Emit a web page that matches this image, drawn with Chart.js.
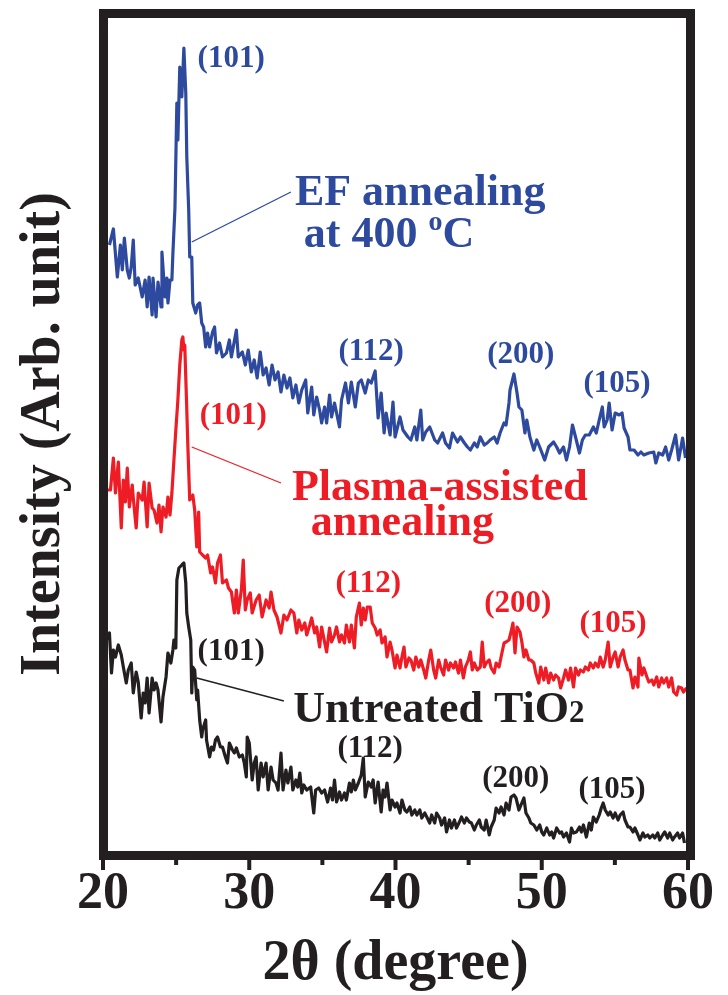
<!DOCTYPE html>
<html>
<head>
<meta charset="utf-8">
<script src="https://cdn.jsdelivr.net/npm/chart.js@4.4.0/dist/chart.umd.min.js"></script>
<style>
  html, body { margin: 0; padding: 0; background: #fff; }
  canvas { display: block; }
</style>
</head>
<body>
<canvas id="xrdChart" width="728" height="995"></canvas>
<script>
// 2-theta (degree) and intensity (arb. unit)
const efTheta = [20.44,20.71,20.98,21.19,21.32,21.46,21.66,21.80,21.93,22.07,22.20,22.41,22.68,22.88,23.02,23.15,23.36,23.42,23.63,23.76,
  23.97,24.03,24.24,24.37,24.44,24.58,24.71,24.78,24.92,25.05,25.12,25.25,25.39,25.53,25.66,25.73,25.86,25.93,26.07,26.14,
  26.34,26.47,26.61,26.75,26.88,27.02,27.15,27.29,27.49,27.63,27.76,27.97,28.17,28.44,28.64,28.78,29.12,29.25,29.53,29.73,
  29.93,30.14,30.34,30.54,30.75,30.95,31.15,31.36,31.56,31.76,31.97,32.17,32.37,32.58,32.78,32.98,33.19,33.39,33.59,33.86,
  34.00,34.27,34.41,34.61,34.81,34.95,35.15,35.29,35.49,35.63,35.83,36.17,36.31,36.58,36.78,36.98,37.25,37.46,37.66,37.93,
  38.14,38.34,38.61,38.81,39.02,39.22,39.36,39.63,39.83,39.97,40.31,40.51,40.85,41.05,41.32,41.46,41.73,41.86,42.07,42.34,
  42.68,42.88,43.22,43.42,43.69,43.90,44.24,44.44,44.71,44.92,45.12,45.39,45.59,45.80,46.07,46.27,46.47,46.75,46.95,47.15,
  47.42,47.56,47.76,47.83,48.10,48.31,48.44,48.64,48.85,48.98,49.19,49.46,49.66,49.86,50.20,50.47,50.81,51.02,51.22,51.49,
  51.69,51.90,52.10,52.31,52.58,52.78,52.98,53.25,53.53,53.73,53.93,54.14,54.27,54.47,54.61,54.81,55.02,55.29,55.49,55.63,
  55.90,56.03,56.31,56.58,56.78,56.98,57.32,57.66,57.80,58.00,58.27,58.47,58.68,58.88,59.15,59.36,59.63,59.83];
const efCounts = [610,626,578,610,585,617,585,577,588,615,570,577,558,575,548,578,540,577,538,573,
  548,603,558,577,552,575,575,602,647,752,715,788,758,807,762,698,645,598,598,552,
  542,550,552,532,528,508,522,508,523,528,502,512,498,502,515,498,525,498,503,490,
  505,483,495,477,503,480,487,470,490,475,483,463,480,467,477,457,470,452,465,475,
  442,468,440,458,445,432,448,432,460,438,452,428,455,472,452,473,448,472,475,462,
  475,472,484,437,462,422,442,420,453,418,438,425,418,415,428,415,445,415,423,428,
  415,412,422,412,407,422,413,418,412,408,405,412,408,418,410,412,415,418,412,422,
  432,430,452,465,481,462,448,445,422,435,418,405,415,408,395,408,413,408,402,408,
  395,408,430,418,402,415,420,420,428,422,435,448,428,435,452,425,442,440,442,427,
  418,405,405,400,403,400,402,403,392,402,400,408,395,405,420,395,417,397];

const plasmaTheta = [20.24,20.51,20.71,20.85,21.05,21.25,21.39,21.53,21.66,21.80,
  22.00,22.07,22.27,22.41,22.68,22.81,23.02,23.15,23.36,23.49,
  23.69,23.83,23.97,24.10,24.31,24.44,24.58,24.71,24.85,24.98,
  25.12,25.25,25.39,25.46,25.53,25.59,25.73,25.80,25.93,26.14,
  26.27,26.41,26.54,26.61,26.81,27.02,27.15,27.36,27.49,27.69,
  27.83,28.03,28.17,28.44,28.58,28.78,28.98,29.12,29.25,29.46,
  29.59,29.73,29.86,30.07,30.20,30.47,30.68,30.88,31.15,31.36,
  31.49,31.69,31.90,32.17,32.37,32.58,32.85,33.05,33.25,33.39,
  33.59,33.80,33.93,34.14,34.27,34.47,34.61,34.81,34.95,35.15,
  35.29,35.49,35.63,35.83,35.97,36.17,36.31,36.51,36.64,36.85,
  36.98,37.19,37.32,37.53,37.66,37.80,37.93,38.07,38.27,38.41,
  38.61,38.75,38.95,39.08,39.29,39.42,39.63,39.76,39.97,40.10,
  40.31,40.44,40.58,40.71,40.92,41.05,41.25,41.39,41.59,41.73,
  41.93,42.07,42.27,42.41,42.61,42.75,42.95,43.08,43.29,43.42,
  43.63,43.76,43.97,44.10,44.31,44.44,44.64,44.78,44.98,45.12,
  45.25,45.39,45.59,45.80,45.93,46.07,46.20,46.41,46.54,46.75,
  46.88,47.08,47.22,47.42,47.56,47.76,47.90,48.03,48.17,48.31,
  48.51,48.64,48.78,48.92,49.12,49.25,49.46,49.59,49.80,49.93,
  50.14,50.27,50.47,50.61,50.81,50.95,51.15,51.29,51.49,51.63,
  51.83,51.97,52.17,52.31,52.51,52.64,52.85,52.98,53.19,53.32,
  53.53,53.66,53.86,54.00,54.20,54.34,54.54,54.68,54.88,55.02,
  55.22,55.36,55.56,55.69,55.90,56.03,56.24,56.37,56.58,56.64,
  56.85,56.98,57.19,57.32,57.53,57.66,57.86,58.00,58.20,58.34,
  58.54,58.68,58.88,59.02,59.22,59.36,59.56,59.69,59.90];
const plasmaCounts = [365,365,397,362,393,327,375,353,387,348,
  370,357,327,362,355,373,328,372,347,345,
  332,350,323,348,338,358,340,362,395,425,
  455,490,515,518,505,510,445,410,355,360,
  345,308,343,303,300,297,300,282,288,272,
  292,300,272,275,267,263,242,265,242,265,
  295,245,255,262,242,255,260,238,255,247,
  263,245,238,222,240,235,245,242,222,235,
  225,232,220,230,237,222,228,208,228,213,
  203,227,213,220,228,213,220,212,230,213,
  230,207,238,252,230,247,235,248,248,232,
  227,220,225,212,218,198,213,205,187,200,
  187,198,208,188,197,195,185,198,188,195,
  185,177,195,205,185,177,195,188,180,195,
  185,192,187,193,182,195,177,188,195,203,
  185,192,185,188,213,188,192,195,187,182,
  192,188,198,212,213,215,223,232,202,228,
  223,213,198,205,195,195,192,182,172,188,
  175,187,172,182,175,180,177,167,177,185,
  175,187,168,187,180,185,183,188,185,192,
  187,192,188,198,188,195,213,188,198,203,
  188,198,205,195,185,185,167,178,168,197,
  180,187,178,173,175,170,178,168,177,172,
  177,168,177,163,160,168,167,163,167];

const rawTheta = [20.24,20.44,20.58,20.71,20.85,21.05,21.25,21.39,21.59,21.73,
  21.93,22.07,22.27,22.41,22.61,22.75,22.88,23.02,23.15,23.36,
  23.49,23.63,23.76,23.97,24.10,24.31,24.44,24.64,24.78,24.85,
  24.98,25.05,25.19,25.39,25.53,25.66,25.73,25.86,26.00,26.07,
  26.14,26.27,26.41,26.47,26.61,26.75,26.81,27.02,27.08,27.29,
  27.42,27.56,27.69,27.83,28.03,28.17,28.37,28.51,28.64,28.85,
  28.98,29.12,29.32,29.53,29.66,29.80,29.86,30.00,30.20,30.34,
  30.47,30.61,30.81,30.95,31.15,31.29,31.49,31.63,31.83,31.97,
  32.17,32.31,32.51,32.64,32.85,32.98,33.19,33.32,33.46,33.59,
  33.73,33.93,34.20,34.41,34.54,34.75,34.95,35.15,35.36,35.56,
  35.69,35.83,35.97,36.17,36.31,36.51,36.64,36.85,36.98,37.12,
  37.25,37.46,37.66,37.80,37.93,38.14,38.34,38.47,38.61,38.81,
  39.02,39.15,39.29,39.42,39.63,39.76,39.97,40.10,40.31,40.44,
  40.64,40.78,40.98,41.12,41.32,41.46,41.66,41.80,42.00,42.14,
  42.34,42.47,42.68,42.81,43.02,43.15,43.36,43.49,43.69,43.83,
  44.03,44.17,44.37,44.51,44.71,44.85,45.05,45.19,45.39,45.53,
  45.73,45.86,46.07,46.20,46.41,46.54,46.75,46.88,47.08,47.22,
  47.42,47.56,47.76,47.90,48.10,48.24,48.44,48.58,48.78,48.92,
  49.12,49.25,49.46,49.66,49.86,50.00,50.14,50.34,50.54,50.68,
  50.81,51.02,51.22,51.36,51.49,51.69,51.90,52.03,52.17,52.37,
  52.58,52.71,52.85,53.05,53.25,53.39,53.53,53.73,53.93,54.07,
  54.20,54.34,54.54,54.68,54.88,55.02,55.22,55.36,55.56,55.69,
  55.90,56.03,56.24,56.37,56.58,56.71,56.92,57.05,57.25,57.39,
  57.59,57.73,57.93,58.07,58.27,58.41,58.61,58.75,58.95,59.08,
  59.29,59.42,59.63,59.76];
const rawCounts = [215,222,182,205,198,210,200,188,172,185,
  192,162,183,173,137,162,152,177,142,177,
  165,172,165,133,158,178,202,192,205,215,
  207,275,287,290,292,272,242,228,215,162,
  188,185,155,165,135,118,125,135,115,98,
  108,105,115,118,108,108,98,92,112,105,
  102,107,98,100,92,78,118,112,75,92,
  98,65,92,78,92,65,88,75,72,65,
  102,65,85,72,88,65,75,68,82,62,
  70,65,68,42,65,67,62,65,53,67,
  55,75,53,63,55,62,55,72,63,75,
  65,72,80,97,58,73,68,75,52,73,
  43,65,58,72,45,55,48,52,42,55,
  45,43,48,40,45,40,45,37,42,38,
  32,40,32,42,37,30,37,23,35,27,
  35,27,33,38,32,37,33,32,25,30,
  35,28,25,35,20,28,35,47,42,48,
  40,52,45,58,60,57,45,50,57,42,
  37,32,30,25,30,23,20,27,20,23,
  17,27,22,23,18,22,13,27,22,23,
  28,23,30,18,32,25,38,33,40,47,
  52,45,40,43,37,42,35,40,43,35,
  28,28,23,27,20,15,22,18,20,17,
  20,17,22,15,20,23,17,22,15,18,
  22,17,22,12];

const majorTicks = [20, 30, 40, 50, 60];
const minorTicks = [25, 35, 45, 55];

const blue = '#2E4A9F';
const red = '#EE1D25';
const ink = '#231F20';
const serif = '"Liberation Serif", "Times New Roman", serif';

// labels anchored in data coordinates (2theta, intensity)
const labels = [
  { x: 26.47, y: 788, color: blue, parts: [['(101)', 31]] },
  { x: 33.12, y: 650, color: blue, parts: [['EF annealing', 44]] },
  { x: 33.73, y: 608, color: blue, parts: [['at 400 ', 44], ['o', 28, 17], ['C', 44]] },
  { x: 36.10, y: 495, color: blue, parts: [['(112)', 31]] },
  { x: 46.27, y: 492, color: blue, parts: [['(200)', 31]] },
  { x: 52.85, y: 463, color: blue, parts: [['(105)', 31]] },
  { x: 26.61, y: 431, color: red, parts: [['(101)', 31]] },
  { x: 32.92, y: 355, color: red, parts: [['Plasma-assisted', 44]] },
  { x: 34.20, y: 320, color: red, parts: [['annealing', 44]] },
  { x: 35.90, y: 263, color: red, parts: [['(112)', 31]] },
  { x: 46.07, y: 243, color: red, parts: [['(200)', 31]] },
  { x: 52.58, y: 223, color: red, parts: [['(105)', 31]] },
  { x: 26.47, y: 195, color: ink, parts: [['(101)', 31]] },
  { x: 33.00, y: 133, color: ink, parts: [['Untreated TiO', 44], ['2', 31]] },
  { x: 36.03, y: 98, color: ink, parts: [['(112)', 31]] },
  { x: 45.93, y: 68, color: ink, parts: [['(200)', 31]] },
  { x: 52.51, y: 57, color: ink, parts: [['(105)', 31]] }
];
const leaders = [
  { x1: 26.07, y1: 613, x2: 32.85, y2: 663, color: blue },
  { x1: 26.07, y1: 408, x2: 32.17, y2: 372, color: red },
  { x1: 26.41, y1: 177, x2: 32.37, y2: 154, color: ink }
];

const pairs = (t, c) => t.map((v, i) => ({ x: v, y: c[i] }));

const decorPlugin = {
  id: 'decor',
  afterDatasetsDraw(chart) {
    const { ctx, chartArea: a, scales: { x, y } } = chart;
    ctx.save();

    // leader lines
    ctx.lineWidth = 1.3;
    leaders.forEach(l => {
      ctx.strokeStyle = l.color;
      ctx.beginPath();
      ctx.moveTo(x.getPixelForValue(l.x1), y.getPixelForValue(l.y1));
      ctx.lineTo(x.getPixelForValue(l.x2), y.getPixelForValue(l.y2));
      ctx.stroke();
    });

    // frame
    ctx.strokeStyle = ink;
    ctx.lineWidth = 9;
    ctx.strokeRect(a.left + 0.5, a.top + 0.5, a.right - a.left + 2, a.bottom - a.top);

    // tick marks below the frame
    ctx.lineWidth = 4;
    const tick = (v, len) => {
      const px = x.getPixelForValue(v);
      ctx.beginPath();
      ctx.moveTo(px, a.bottom + 4);
      ctx.lineTo(px, a.bottom + 4 + len);
      ctx.stroke();
    };
    majorTicks.forEach(v => tick(v, 11));
    minorTicks.forEach(v => tick(v, 6));

    // peak and sample labels
    ctx.textBaseline = 'alphabetic';
    ctx.textAlign = 'left';
    labels.forEach(lb => {
      let px = x.getPixelForValue(lb.x);
      const py = y.getPixelForValue(lb.y);
      ctx.fillStyle = lb.color;
      lb.parts.forEach(([txt, size, rise]) => {
        ctx.font = 'bold ' + size + 'px ' + serif;
        ctx.fillText(txt, px, py - (rise || 0));
        px += ctx.measureText(txt).width;
      });
    });
    ctx.restore();
  }
};

new Chart(document.getElementById('xrdChart'), {
  type: 'line',
  data: {
    datasets: [
      { label: 'EF annealing at 400 oC', data: pairs(efTheta, efCounts), borderColor: blue },
      { label: 'Plasma-assisted annealing', data: pairs(plasmaTheta, plasmaCounts), borderColor: red },
      { label: 'Untreated TiO2', data: pairs(rawTheta, rawCounts), borderColor: ink }
    ]
  },
  options: {
    responsive: false,
    animation: false,
    devicePixelRatio: 1,
    layout: { padding: { left: 0, right: 35, top: 13, bottom: 0 } },
    elements: {
      line: { borderWidth: 3.2, tension: 0, borderJoinStyle: 'round' },
      point: { radius: 0 }
    },
    plugins: { legend: { display: false }, tooltip: { enabled: false } },
    scales: {
      x: {
        type: 'linear', min: 20, max: 60,
        ticks: { stepSize: 10, maxRotation: 0, color: ink, padding: 14,
          font: { family: serif, size: 52, weight: 'bold', lineHeight: 1 } },
        grid: { display: false, drawTicks: false },
        border: { display: false },
        title: { display: true, text: '2θ (degree)', color: ink, padding: { top: 0, bottom: 2 },
          font: { family: serif, size: 56, weight: 'bold', lineHeight: 1 } },
        afterFit(s) { s.height = 140; }
      },
      y: {
        min: 0, max: 842,
        ticks: { display: false },
        grid: { display: false, drawTicks: false },
        border: { display: false },
        title: { display: true, text: 'Intensity (Arb. unit)', color: ink, padding: { top: 17, bottom: 0 },
          font: { family: serif, size: 56, weight: 'bold', lineHeight: 1 } },
        afterFit(s) { s.width = 103; }
      }
    }
  },
  plugins: [decorPlugin]
});
</script>
</body>
</html>
